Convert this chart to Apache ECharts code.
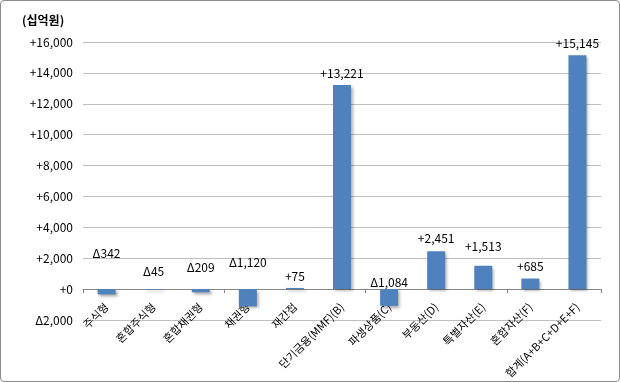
<!DOCTYPE html>
<html><head><meta charset="utf-8">
<script src="https://cdn.jsdelivr.net/npm/echarts@6/dist/echarts.min.js"></script>
<style>
html,body{margin:0;padding:0;background:#fff;}
#c{width:620px;height:382px;box-sizing:border-box;border:1px solid #8c8c8c;border-radius:4px;}
</style></head>
<body><div id="c"></div>
<script>
const categories = ['주식형','혼합주식형','혼합채권형','채권형','재간접','단기금융(MMF)(B)','파생상품(C)','부동산(D)','특별자산(E)','혼합자산(F)','합계(A+B+C+D+E+F)'];
const values = [-342, -45, -209, -1120, 75, 13221, -1084, 2451, 1513, 685, 15145];
const unitLabel = '(십억원)';
const labelGaps = [30, 12, 16, 21, 6, 5, 1, 7, 13, 6, 6];

function fmt(v){
  const s = Math.abs(v).toLocaleString('en-US');
  return (v < 0 ? 'Δ' : '+') + s;
}
const font = '"Noto Sans CJK KR", "Noto Sans", sans-serif';
const chart = echarts.init(document.getElementById('c'));
chart.setOption({
  animation: false,
  textStyle: {fontFamily: font},
  title: {text: unitLabel, left: 16, top: 8, textStyle: {fontSize: 12, fontWeight: 'bold', color: '#000', fontFamily: font}},
  grid: {left: 82, right: 18, top: 41, bottom: 61, containLabel: false, outerBoundsMode: 'none'},
  xAxis: [{
    type: 'category', data: categories,
    axisLine: {onZero: true, lineStyle: {color: '#868686'}},
    axisTick: {show: true, length: 4, lineStyle: {color: '#868686'}},
    axisLabel: {show: false}
  }, {
    type: 'category', data: categories, position: 'bottom', offset: -20,
    axisLine: {show: false, onZero: false}, axisTick: {show: false},
    axisLabel: {rotate: 45, fontSize: 11, color: '#000', margin: 5, interval: 0, fontFamily: font}
  }],
  yAxis: {
    type: 'value', min: -2000, max: 16000, interval: 2000,
    axisLine: {show: false}, axisTick: {show: false},
    splitLine: {lineStyle: {color: '#bfbfbf'}},
    axisLabel: {fontSize: 12, color: '#000', margin: 10, formatter: v => fmt(v), fontFamily: font}
  },
  series: [{
    type: 'bar', barWidth: 18, xAxisIndex: 0,
    itemStyle: {color: '#4F81BD', shadowColor: 'rgba(0,0,0,0.35)', shadowBlur: 3, shadowOffsetX: 2, shadowOffsetY: 2},
    data: values.map((v, i) => ({value: v, label: {show: true, position: 'top', distance: labelGaps[i]}})),
    label: {show: true, color: '#000', fontSize: 12, fontFamily: font, formatter: p => fmt(p.value)}
  }]
});
</script></body></html>
